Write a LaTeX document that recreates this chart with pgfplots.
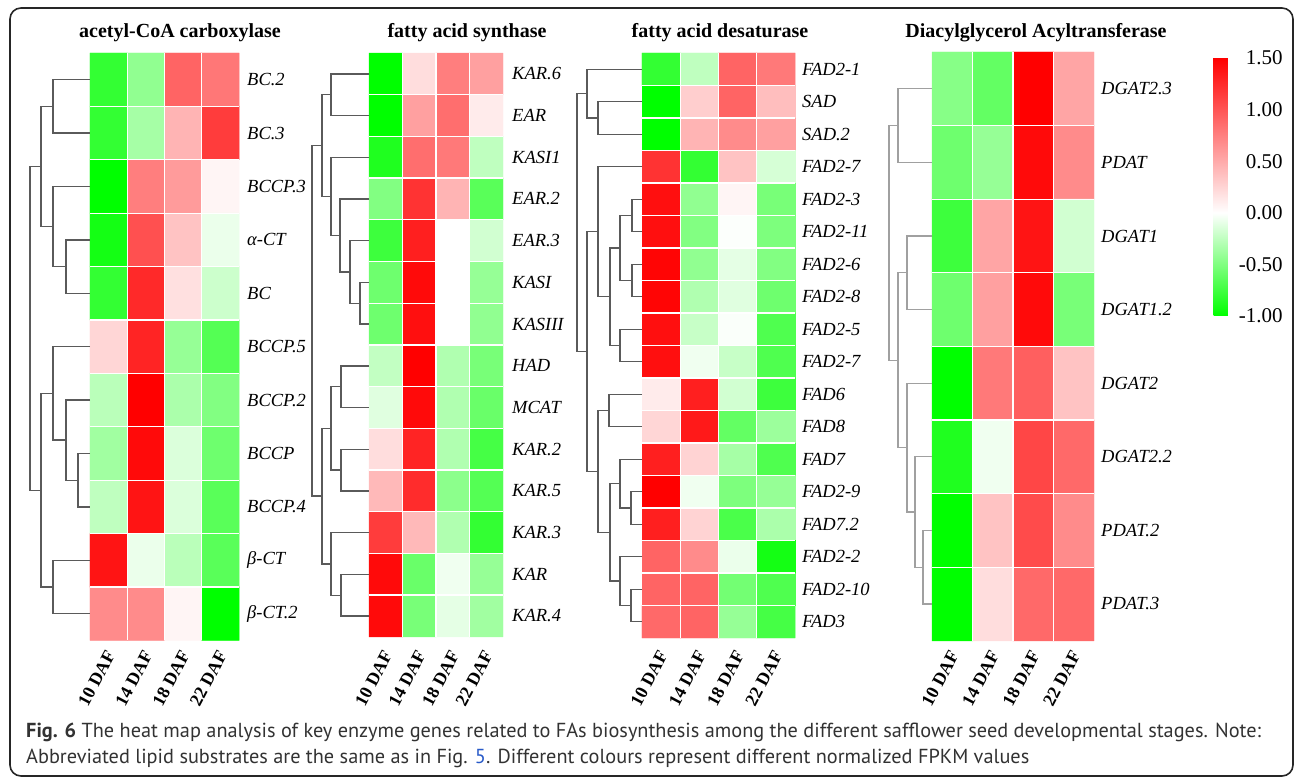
\documentclass[border=0pt]{standalone}
\usepackage{pgfplots}
\pgfplotsset{compat=1.18}
\usepackage{fontspec}
\setmainfont{Liberation Serif}
\newfontfamily\capfont{PT Sans}
\definecolor{dendrocol}{RGB}{90,90,90}
\definecolor{dendrolight}{RGB}{160,160,160}
\definecolor{captxt}{RGB}{50,50,50}
\definecolor{linkblue}{RGB}{40,90,200}
\pgfplotsset{
  dendro/.style={draw=dendrocol, line width=1.4pt},
  dendrol/.style={draw=dendrolight, line width=1.1pt},
  heat/.style={matrix plot*, mesh/cols=4, point meta=explicit},
  cellgrid/.style={draw=white, line width=1.3pt, unbounded coords=jump},
}
% \lnk[style]{xa}{ya}{xb}{yb}{xjoin}
\newcommand\lnk[6][dendro]{\addplot[#1] coordinates {(#2,#3) (#6,#3) (#6,#5) (#4,#5)};}
\begin{document}
\begin{tikzpicture}
\begin{axis}[
  x=1pt, y=1pt, y dir=reverse,
  xmin=0, xmax=1295, ymin=0, ymax=778,
  scale only axis, axis lines=none, clip=false,
  colormap={gwr}{rgb255(0cm)=(0,255,0); rgb255(2cm)=(255,255,255); rgb255(5cm)=(255,0,0)},
  point meta min=-1, point meta max=1.5,
  colorbar,
  colorbar style={
    at={(parent axis.north west)}, anchor=north west,
    xshift=1205pt, yshift=-58pt,
    scale only axis, width=27pt, height=258pt,
    axis line style={draw=none}, major tick length=0pt,
    ytick={-1,-0.5,0,0.5,1,1.5},
    yticklabels={\llap{-}1.00,\llap{-}0.50,0.00,0.50,1.00,1.50},
    yticklabel style={font=\fontsize{21}{21}\selectfont, inner sep=0pt, xshift=5pt},
  },
]
% ---------- acetyl-CoA carboxylase ----------
\addplot[heat] table[x=x,y=y,meta=v] {
x y v
108.6 79.7 -0.80
145.9 79.7 -0.43
183.1 79.7 0.91
220.4 79.7 0.80
108.6 133.1 -0.80
145.9 133.1 -0.35
183.1 133.1 0.44
220.4 133.1 1.15
108.6 186.5 -1.00
145.9 186.5 0.76
183.1 186.5 0.59
220.4 186.5 0.06
108.6 239.9 -0.92
145.9 239.9 1.03
183.1 239.9 0.35
220.4 239.9 -0.08
108.6 293.3 -0.80
145.9 293.3 1.26
183.1 293.3 0.18
220.4 293.3 -0.20
108.6 346.7 0.24
145.9 346.7 1.29
183.1 346.7 -0.41
220.4 346.7 -0.67
108.6 400.1 -0.27
145.9 400.1 1.50
183.1 400.1 -0.33
220.4 400.1 -0.49
108.6 453.5 -0.37
145.9 453.5 1.44
183.1 453.5 -0.14
220.4 453.5 -0.57
108.6 506.9 -0.25
145.9 506.9 1.38
183.1 506.9 -0.14
220.4 506.9 -0.65
108.6 560.3 1.38
145.9 560.3 -0.08
183.1 560.3 -0.27
220.4 560.3 -0.65
108.6 613.7 0.68
145.9 613.7 0.68
183.1 613.7 0.06
220.4 613.7 -1.00
};
\addplot[cellgrid] coordinates {
(127.25,53) (127.25,640.4) (nan,nan) (164.5,53) (164.5,640.4) (nan,nan) (201.75,53) (201.75,640.4) (nan,nan)
(90,106.4) (239,106.4) (nan,nan) (90,159.8) (239,159.8) (nan,nan) (90,213.2) (239,213.2) (nan,nan)
(90,266.6) (239,266.6) (nan,nan) (90,320.0) (239,320.0) (nan,nan) (90,373.4) (239,373.4) (nan,nan)
(90,426.8) (239,426.8) (nan,nan) (90,480.2) (239,480.2) (nan,nan) (90,533.6) (239,533.6) (nan,nan)
(90,587.0) (239,587.0)};
\lnk{90}{79.7}{90}{133.1}{53}
\lnk{90}{239.9}{90}{293.3}{66}
\lnk{90}{186.5}{66}{266.6}{53}
\lnk{53}{106.4}{53}{226.5}{41}
\lnk{90}{453.5}{90}{506.9}{78}
\lnk{90}{400.1}{78}{480.2}{66}
\lnk{90}{346.7}{66}{440.1}{53}
\lnk{90}{560.3}{90}{613.7}{53}
\lnk{53}{393.4}{53}{587.0}{41}
\lnk{41}{166.5}{41}{490.2}{30}
% ---------- fatty acid synthase ----------
\addplot[heat] table[x=x,y=y,meta=v] {
x y v
385.75 73.9 -1.00
419.25 73.9 0.20
452.75 73.9 0.76
486.25 73.9 0.56
385.75 115.6 -1.00
419.25 115.6 0.56
452.75 115.6 0.85
486.25 115.6 0.12
385.75 157.3 -0.88
419.25 157.3 0.85
452.75 157.3 0.79
486.25 157.3 -0.25
385.75 199.0 -0.49
419.25 199.0 1.20
452.75 199.0 0.44
486.25 199.0 -0.65
385.75 240.7 -0.76
419.25 240.7 1.32
452.75 240.7 0.00
486.25 240.7 -0.18
385.75 282.4 -0.57
419.25 282.4 1.44
452.75 282.4 0.00
486.25 282.4 -0.41
385.75 324.1 -0.57
419.25 324.1 1.41
452.75 324.1 0.00
486.25 324.1 -0.43
385.75 365.8 -0.24
419.25 365.8 1.50
452.75 365.8 -0.31
486.25 365.8 -0.53
385.75 407.5 -0.12
419.25 407.5 1.44
452.75 407.5 -0.31
486.25 407.5 -0.59
385.75 449.2 0.20
419.25 449.2 1.29
452.75 449.2 -0.31
486.25 449.2 -0.73
385.75 490.9 0.41
419.25 490.9 1.24
452.75 490.9 -0.45
486.25 490.9 -0.67
385.75 532.6 1.15
419.25 532.6 0.41
452.75 532.6 -0.31
486.25 532.6 -0.80
385.75 574.3 1.44
419.25 574.3 -0.59
452.75 574.3 -0.06
486.25 574.3 -0.41
385.75 616.0 1.44
419.25 616.0 -0.53
452.75 616.0 -0.10
486.25 616.0 -0.37
};
\addplot[cellgrid] coordinates {
(402.5,53) (402.5,636.8) (nan,nan) (436,53) (436,636.8) (nan,nan) (469.5,53) (469.5,636.8) (nan,nan)
(369,94.7) (503,94.7) (nan,nan) (369,136.4) (503,136.4) (nan,nan) (369,178.1) (503,178.1) (nan,nan)
(369,219.8) (503,219.8) (nan,nan) (369,261.5) (503,261.5) (nan,nan) (369,303.2) (503,303.2) (nan,nan)
(369,344.9) (503,344.9) (nan,nan) (369,386.6) (503,386.6) (nan,nan) (369,428.3) (503,428.3) (nan,nan)
(369,470.0) (503,470.0) (nan,nan) (369,511.7) (503,511.7) (nan,nan) (369,553.4) (503,553.4) (nan,nan)
(369,595.1) (503,595.1)};
\lnk{369}{73.9}{369}{115.6}{331}
\lnk{369}{282.4}{369}{324.1}{360}
\lnk{369}{240.7}{360}{303.3}{350}
\lnk{369}{199.0}{350}{272.0}{340}
\lnk{369}{157.3}{340}{235.5}{331}
\lnk{331}{94.8}{331}{196.4}{322}
\lnk{369}{365.8}{369}{407.5}{341}
\lnk{369}{449.2}{369}{490.9}{341}
\lnk{341}{386.7}{341}{470.1}{331}
\lnk{369}{574.3}{369}{616.0}{341}
\lnk{369}{532.6}{341}{595.2}{331}
\lnk{331}{428.4}{331}{563.9}{322}
\lnk{322}{145.6}{322}{496.1}{312}
% ---------- fatty acid desaturase ----------
\addplot[heat] table[x=x,y=y,meta=v] {
x y v
661.1 69.25 -0.80
699.4 69.25 -0.25
737.6 69.25 0.91
775.9 69.25 0.79
661.1 101.75 -1.00
699.4 101.75 0.29
737.6 101.75 0.91
775.9 101.75 0.38
661.1 134.25 -1.00
699.4 134.25 0.44
737.6 134.25 0.68
775.9 134.25 0.56
661.1 166.75 1.20
699.4 166.75 -0.80
737.6 166.75 0.35
775.9 166.75 -0.16
661.1 199.25 1.41
699.4 199.25 -0.43
737.6 199.25 0.06
775.9 199.25 -0.53
661.1 231.75 1.41
699.4 231.75 -0.49
737.6 231.75 -0.01
775.9 231.75 -0.51
661.1 264.25 1.47
699.4 264.25 -0.43
737.6 264.25 -0.10
775.9 264.25 -0.49
661.1 296.75 1.47
699.4 296.75 -0.31
737.6 296.75 -0.12
775.9 296.75 -0.57
661.1 329.25 1.41
699.4 329.25 -0.22
737.6 329.25 -0.02
775.9 329.25 -0.69
661.1 361.75 1.41
699.4 361.75 -0.06
737.6 361.75 -0.22
775.9 361.75 -0.69
661.1 394.25 0.12
699.4 394.25 1.32
737.6 394.25 -0.18
775.9 394.25 -0.76
661.1 426.75 0.24
699.4 426.75 1.35
737.6 426.75 -0.61
775.9 426.75 -0.39
661.1 459.25 1.32
699.4 459.25 0.26
737.6 459.25 -0.35
775.9 459.25 -0.69
661.1 491.75 1.50
699.4 491.75 -0.06
737.6 491.75 -0.51
775.9 491.75 -0.41
661.1 524.25 1.32
699.4 524.25 0.26
737.6 524.25 -0.71
775.9 524.25 -0.33
661.1 556.75 0.91
699.4 556.75 0.68
737.6 556.75 -0.08
775.9 556.75 -0.92
661.1 589.25 0.91
699.4 589.25 0.91
737.6 589.25 -0.55
775.9 589.25 -0.69
661.1 621.75 0.88
699.4 621.75 0.91
737.6 621.75 -0.41
775.9 621.75 -0.73
};
\addplot[cellgrid] coordinates {
(680.25,53) (680.25,638) (nan,nan) (718.5,53) (718.5,638) (nan,nan) (756.75,53) (756.75,638) (nan,nan)
(642,85.5) (795,85.5) (nan,nan) (642,118) (795,118) (nan,nan) (642,150.5) (795,150.5) (nan,nan)
(642,183) (795,183) (nan,nan) (642,215.5) (795,215.5) (nan,nan) (642,248) (795,248) (nan,nan)
(642,280.5) (795,280.5) (nan,nan) (642,313) (795,313) (nan,nan) (642,345.5) (795,345.5) (nan,nan)
(642,378) (795,378) (nan,nan) (642,410.5) (795,410.5) (nan,nan) (642,443) (795,443) (nan,nan)
(642,475.5) (795,475.5) (nan,nan) (642,508) (795,508) (nan,nan) (642,540.5) (795,540.5) (nan,nan)
(642,573) (795,573) (nan,nan) (642,605.5) (795,605.5)};
\lnk{642}{101.75}{642}{134.25}{598}
\lnk{642}{69.25}{598}{118.0}{587}
\lnk{642}{199.25}{642}{231.75}{632}
\lnk{642}{264.25}{642}{296.75}{632}
\lnk{632}{215.5}{632}{280.5}{620}
\lnk{642}{329.25}{642}{361.75}{620}
\lnk{620}{248.0}{620}{345.5}{610}
\lnk{642}{166.75}{610}{296.75}{598}
\lnk{642}{394.25}{642}{426.75}{609}
\lnk{642}{491.75}{642}{524.25}{631}
\lnk{642}{459.25}{631}{508.0}{620}
\lnk{642}{589.25}{642}{621.75}{631}
\lnk{642}{556.75}{631}{605.5}{620}
\lnk{620}{483.6}{620}{581.1}{610}
\lnk{609}{410.5}{610}{532.4}{598}
\lnk{598}{231.75}{598}{471.4}{587}
\lnk{587}{93.6}{587}{351.6}{577}
% ---------- Diacylglycerol Acyltransferase ----------
\addplot[heat] table[x=x,y=y,meta=v] {
x y v
952.25 88.8 -0.47
992.75 88.8 -0.61
1033.25 88.8 1.50
1073.75 88.8 0.53
952.25 162.4 -0.57
992.75 162.4 -0.41
1033.25 162.4 1.44
1073.75 162.4 0.68
952.25 236.0 -0.76
992.75 236.0 0.53
1033.25 236.0 1.38
1073.75 236.0 -0.18
952.25 309.6 -0.57
992.75 309.6 0.56
1033.25 309.6 1.44
1073.75 309.6 -0.53
952.25 383.2 -1.00
992.75 383.2 0.79
1033.25 383.2 0.94
1073.75 383.2 0.35
952.25 456.8 -0.88
992.75 456.8 -0.06
1033.25 456.8 1.09
1073.75 456.8 0.88
952.25 530.4 -1.00
992.75 530.4 0.35
1033.25 530.4 1.06
1073.75 530.4 0.68
952.25 604.0 -1.00
992.75 604.0 0.20
1033.25 604.0 0.88
1073.75 604.0 0.88
};
\addplot[cellgrid] coordinates {
(972.5,52) (972.5,640.8) (nan,nan) (1013,52) (1013,640.8) (nan,nan) (1053.5,52) (1053.5,640.8) (nan,nan)
(932,125.6) (1094,125.6) (nan,nan) (932,199.2) (1094,199.2) (nan,nan) (932,272.8) (1094,272.8) (nan,nan)
(932,346.4) (1094,346.4) (nan,nan) (932,420.0) (1094,420.0) (nan,nan) (932,493.6) (1094,493.6) (nan,nan)
(932,567.2) (1094,567.2)};
\lnk[dendrol]{932}{88.8}{932}{162.4}{898}
\lnk[dendrol]{932}{236.0}{932}{309.6}{907}
\lnk[dendrol]{932}{530.4}{932}{604.0}{923}
\lnk[dendrol]{932}{456.8}{923}{567.2}{915}
\lnk[dendrol]{932}{383.2}{915}{512.0}{907}
\lnk[dendrol]{907}{272.8}{907}{447.6}{898}
\lnk[dendrol]{898}{125.6}{898}{360.2}{889}
\end{axis}
\begin{scope}[x=1pt, y=-1pt, shift={(0pt,778pt)}]
\path (0,0) rectangle (1295,778);
\draw[line width=1.6pt, rounded corners=11pt, black!85] (10,8) rectangle (1293,776);
% titles
\begin{scope}[every node/.style={font=\fontsize{20}{20}\selectfont\bfseries, inner sep=0pt}]
\node at (180,33) {acetyl-CoA carboxylase};
\node at (467,33) {fatty acid synthase};
\node at (720,33) {fatty acid desaturase};
\node at (1036,33) {Diacylglycerol Acyltransferase};
\end{scope}
% row labels
\begin{scope}[every node/.style={anchor=west, font=\fontsize{18.5}{18.5}\selectfont\itshape, inner sep=0pt}]
\foreach \y/\t in {79.7/BC.2, 133.1/BC.3, 186.5/BCCP.3, 239.9/α-CT, 293.3/BC, 346.7/BCCP.5, 400.1/BCCP.2, 453.5/BCCP, 506.9/BCCP.4, 560.3/β-CT, 613.7/β-CT.2}
  \node at (247,\y) {\t};
\foreach \y/\t in {73.9/KAR.6, 115.6/EAR, 157.3/KASI1, 199.0/EAR.2, 240.7/EAR.3, 282.4/KASI, 324.1/KASIII, 365.8/HAD, 407.5/MCAT, 449.2/KAR.2, 490.9/KAR.5, 532.6/KAR.3, 574.3/KAR, 616.0/KAR.4}
  \node at (512,\y) {\t};
\foreach \y/\t in {69.25/FAD2-1, 101.75/SAD, 134.25/SAD.2, 166.75/FAD2-7, 199.25/FAD2-3, 231.75/FAD2-11, 264.25/FAD2-6, 296.75/FAD2-8, 329.25/FAD2-5, 361.75/FAD2-7, 394.25/FAD6, 426.75/FAD8, 459.25/FAD7, 491.75/FAD2-9, 524.25/FAD7.2, 556.75/FAD2-2, 589.25/FAD2-10, 621.75/FAD3}
  \node at (802,\y) {\t};
\foreach \y/\t in {88.8/DGAT2.3, 162.4/PDAT, 236.0/DGAT1, 309.6/DGAT1.2, 383.2/DGAT2, 456.8/DGAT2.2, 530.4/PDAT.2, 604.0/PDAT.3}
  \node at (1101,\y) {\t};
\end{scope}
% column labels
\begin{scope}[every node/.style={anchor=east, rotate=62, font=\fontsize{18}{18}\selectfont\bfseries, inner sep=0pt}]
\foreach \x/\t in {108.6/10 DAF, 145.9/14 DAF, 183.1/18 DAF, 220.4/22 DAF,
                   385.75/10 DAF, 419.25/14 DAF, 452.75/18 DAF, 486.25/22 DAF,
                   661.1/10 DAF, 699.4/14 DAF, 737.6/18 DAF, 775.9/22 DAF,
                   952.25/10 DAF, 992.75/14 DAF, 1033.25/18 DAF, 1073.75/22 DAF}
  \node at (\x+2,652) {\t};
\end{scope}
% caption
\node[anchor=base west, inner sep=0pt, text=captxt, font=\capfont\fontsize{20.3}{20.3}\selectfont] at (26,738)
  {\textbf{Fig. 6} The heat map analysis of key enzyme genes related to FAs biosynthesis among the different safflower seed developmental stages. Note:};
\node[anchor=base west, inner sep=0pt, text=captxt, font=\capfont\fontsize{20.3}{20.3}\selectfont] at (26,764)
  {Abbreviated lipid substrates are the same as in Fig. \textcolor{linkblue}{5}. Different colours represent different normalized FPKM values};
\end{scope}
\end{tikzpicture}
\end{document}
